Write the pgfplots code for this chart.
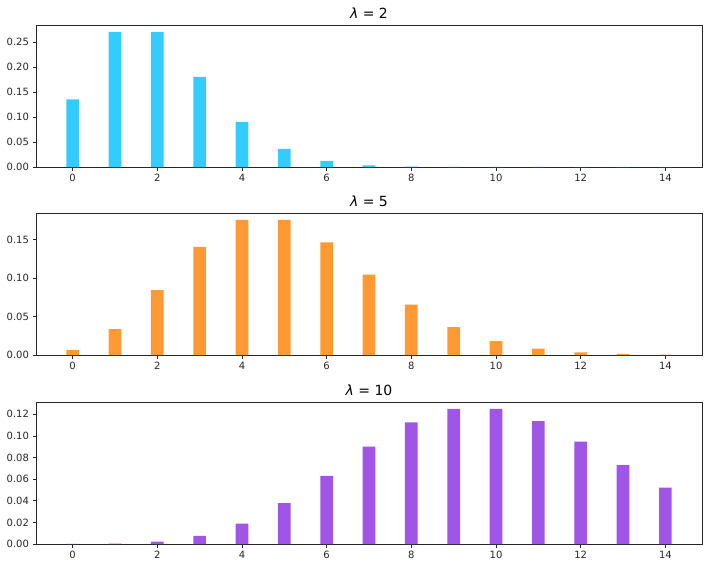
\documentclass[border=0pt]{standalone}
\usepackage{fontspec}
\setmainfont{DejaVu Sans}
\usepackage{pgfplots}
\pgfplotsset{compat=1.18}

\definecolor{cyanbar}{RGB}{51,204,255}
\definecolor{orangebar}{RGB}{255,153,51}
\definecolor{purplebar}{RGB}{160,85,230}

\pgfplotsset{
  poisson/.style={
    scale only axis,
    width=666pt, height=142pt,
    xmin=-0.865, xmax=14.865,
    ymin=0,
    xtick={0,2,...,14},
    xtick pos=bottom, ytick pos=left,
    axis line style={line width=0.8pt, black!85},
    tick align=outside,
    major tick length=3.5pt,
    tick style={line width=0.8pt, black!85},
    ticklabel style={font=\fontsize{10}{12}\selectfont, text=black!85},
    /pgf/number format/assume math mode=true,
    yticklabel style={/pgf/number format/fixed, /pgf/number format/fixed zerofill, /pgf/number format/precision=2},
    scaled y ticks=false,
    title style={font=\fontsize{14}{16}\selectfont, yshift=-3pt},
    ybar, bar width=0.3, bar shift=0pt,
  },
}

\begin{document}
\begin{tikzpicture}
\path (-36pt,167pt) rectangle (676pt,-401pt);

% lambda = 2
\begin{axis}[poisson, at={(0,0)}, ymax=0.2842,
  ytick={0,0.05,...,0.25}, title={\textit{λ} = 2}]
\addplot[fill=cyanbar, draw=none] coordinates {
(0,0.13534) (1,0.27067) (2,0.27067) (3,0.18045) (4,0.09022) (5,0.03609)
(6,0.01203) (7,0.00344) (8,0.00086) (9,0.00019) (10,0.00004) (11,0.000007)
(12,0.000001) (13,0.0) (14,0.0)};
\end{axis}

% lambda = 5
\begin{axis}[poisson, at={(0,-188pt)}, ymax=0.1843,
  ytick={0,0.05,0.10,0.15}, title={\textit{λ} = 5}]
\addplot[fill=orangebar, draw=none] coordinates {
(0,0.00674) (1,0.03369) (2,0.08422) (3,0.14037) (4,0.17547) (5,0.17547)
(6,0.14622) (7,0.10444) (8,0.06528) (9,0.03627) (10,0.01813) (11,0.00824)
(12,0.00343) (13,0.00132) (14,0.00047)};
\end{axis}

% lambda = 10
\begin{axis}[poisson, at={(0,-377pt)}, ymax=0.1314,
  ytick={0,0.02,...,0.12}, title={\textit{λ} = 10}]
\addplot[fill=purplebar, draw=none] coordinates {
(0,0.00005) (1,0.00045) (2,0.00227) (3,0.00757) (4,0.01892) (5,0.03783)
(6,0.06306) (7,0.09008) (8,0.11260) (9,0.12511) (10,0.12511) (11,0.11374)
(12,0.09478) (13,0.07291) (14,0.05208)};
\end{axis}
\end{tikzpicture}
\end{document}
